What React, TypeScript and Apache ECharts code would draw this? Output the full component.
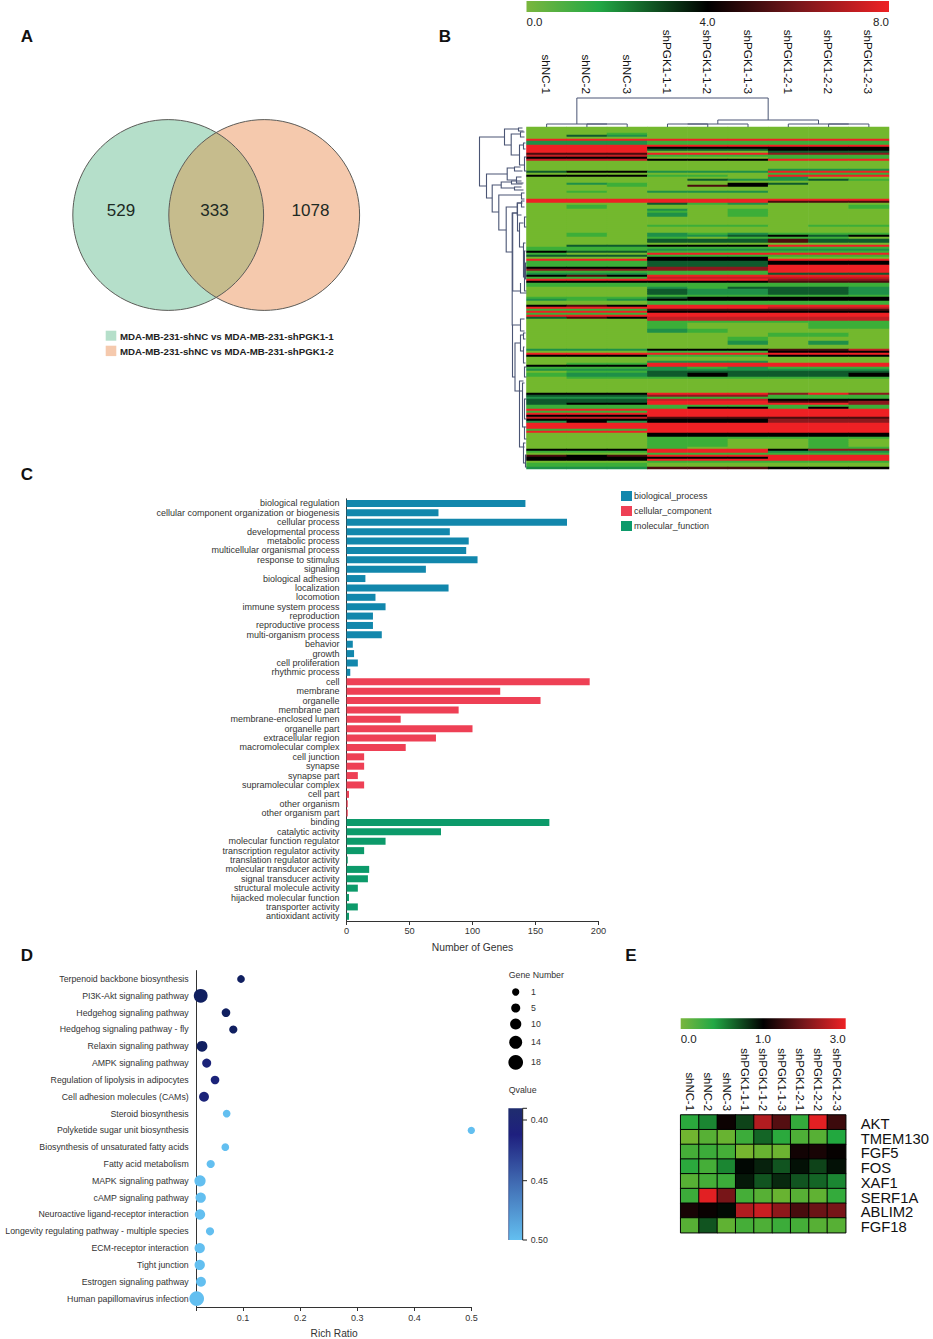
import React, { useEffect, useRef } from "react";
import * as echarts from "echarts";

const SANS = "Liberation Sans";

// Panel A
const vennValues = ["529", "333", "1078"];
const vennLegend = ["MDA-MB-231-shNC vs MDA-MB-231-shPGK1-1", "MDA-MB-231-shNC vs MDA-MB-231-shPGK1-2"];

// Panel B
const sampleNames = ["shNC-1", "shNC-2", "shNC-3", "shPGK1-1-1", "shPGK1-1-2", "shPGK1-1-3", "shPGK1-2-1", "shPGK1-2-2", "shPGK1-2-3"];
const exprBands: [number, string][] = [
  [3, "000000000"], [1, "001000000"], [1, "032000000"], [1, "000000000"], [1, "888888888"], [2, "222111111"],
  [1, "888888888"], [1, "888444444"], [1, "888333444"], [1, "888000333"], [1, "555888666"], [1, "777111111"],
  [1, "444000111"], [1, "777444888"], [4, "000000000"], [1, "000000222"], [1, "344222888"], [1, "000000111"],
  [1, "444110888"], [1, "000000200"], [1, "000032231"], [1, "000000000"], [1, "021004300"], [1, "001054000"],
  [2, "000000000"], [1, "010222000"], [3, "000000000"], [1, "888888888"], [1, "888888555"], [1, "000312000"],
  [2, "010000001"], [1, "000201000"], [1, "000101000"], [2, "000201000"], [4, "000000000"], [1, "000111011"],
  [3, "000000000"], [1, "010212111"], [1, "010223434"], [1, "000101110"], [2, "000333533"], [1, "000000000"],
  [1, "033444888"], [1, "111111111"], [1, "111222222"], [1, "433111111"], [1, "100888888"], [1, "333111111"],
  [1, "000444000"], [1, "888444888"], [2, "111333444"], [1, "111333888"], [1, "444666888"], [1, "666666888"],
  [1, "111111888"], [1, "222111333"], [1, "454888888"], [1, "111777777"], [1, "888888666"], [1, "444444555"],
  [2, "111111111"], [1, "000213332"], [3, "000322332"], [1, "000111111"], [1, "111344444"], [1, "212444444"],
  [2, "000111111"], [1, "454888888"], [1, "888888777"], [1, "111555555"], [1, "888444444"], [1, "111888888"],
  [1, "888888888"], [1, "354777777"], [1, "000777777"], [1, "000111111"], [3, "000100011"], [2, "000210000"],
  [2, "000000110"], [2, "000001000"], [2, "000002020"], [2, "000000000"], [1, "222444557"], [1, "000111444"],
  [1, "888888888"], [1, "444111444"], [2, "000000000"], [1, "000222000"],
  [1, "011888888"], [1, "444888888"], [1, "111212111"], [1, "222222222"], [1, "011333333"], [2, "122343334"],
  [1, "011111111"], [7, "000000000"], [1, "444888686"], [1, "333666111"], [1, "222111111"], [1, "333777444"],
  [1, "333888556"], [1, "344888886"], [1, "111111111"], [1, "111144141"], [1, "888888888"], [1, "111888888"],
  [1, "888888888"], [1, "444888888"], [1, "777555555"], [1, "444444666"], [1, "242444666"], [3, "888888888"],
  [1, "111888888"], [1, "888888888"], [2, "000444444"], [1, "000111111"], [4, "000110010"], [1, "000100011"],
  [1, "444888466"], [1, "111888222"], [1, "000111111"], [1, "545888888"], [1, "444444888"], [1, "444888888"],
  [1, "000111111"], [2, "111000000"], [1, "222555444"],
];
const columnTree = [
  [1, 2, 3, 0, 0], [0, 1.5, 3, 0, 3], [3, 4, 3, 0, 0], [3.5, 5, 3, 3, 0], [7, 8, 3, 0, 0], [6, 7.5, 3, 0, 3],
  [4.25, 6.75, 7, 3, 3], [0.75, 5.5, 29, 3, 7],
];
const rowTree = [
  [47, 5, 29.5, 22, 40], [22, 1, 9, 8, 15.3], [8, 0.5, 2, 4, 3], [15.3, 3.5, 14, 6, 7], [6, 2.5, 5, 2, 2], [7, 9, 19, 3, 2],
  [3, 8, 11, 1, 1], [2, 15, 22, 0, 0], [40, 23.5, 35.5, 19.3, 34.3], [19.3, 20.5, 26.5, 12, 10], [12, 20, 22, 6, 4],
  [10, 25, 28, 5, 3], [34.3, 29, 42.5, 25.3, 27.7], [25.3, 27.5, 30.5, 15, 12], [15, 27, 28.5, 5, 4], [12, 30, 31.5, 5, 3],
  [27.7, 34, 51.5, 5, 20.3], [5, 33, 36, 2, 2], [20.3, 40, 62.5, 9.3, 14.3], [9.3, 38, 44, 4, 5], [5, 37, 40, 2, 2],
  [14.3, 43, 99, 9, 14], [13.8, 43, 82, 9, 6], [9, 38, 52, 5, 7], [7, 48, 60, 3, 3], [3, 58, 75, 1, 2], [2, 62, 82, 1, 0], [6, 78, 83, 6, 0],
  [14, 99, 125, 6, 11.5], [6, 96, 102, 2, 2], [11.5, 108, 132, 6, 4], [6, 104, 112, 3, 3], [3, 103, 106, 1, 1],
  [3, 110, 118, 2, 1], [4, 128, 150, 2, 2], [7, 127, 160, 3, 2], [3, 158, 168, 1, 1], [2, 136, 146, 0, 0],
  [2, 120, 125, 0, 0], [2, 150, 156, 0, 0], [1, 164, 170, 0, 0], [1, 68, 76, 0, 0], [2, 45, 50, 0, 0],
];

// Panel C
const goTerms = ["biological regulation", "cellular component organization or biogenesis", "cellular process", "developmental process", "metabolic process", "multicellular organismal process", "response to stimulus", "signaling", "biological adhesion", "localization", "locomotion", "immune system process", "reproduction", "reproductive process", "multi-organism process", "behavior", "growth", "cell proliferation", "rhythmic process", "cell", "membrane", "organelle", "membrane part", "membrane-enclosed lumen", "organelle part", "extracellular region", "macromolecular complex", "cell junction", "synapse", "synapse part", "supramolecular complex", "cell part", "other organism", "other organism part", "binding", "catalytic activity", "molecular function regulator", "transcription regulator activity", "translation regulator activity", "molecular transducer activity", "signal transducer activity", "structural molecule activity", "hijacked molecular function", "transporter activity", "antioxidant activity"];
const processCounts = [142, 73, 175, 82, 97, 95, 104, 63, 15, 81, 23, 31, 21, 21, 28, 5, 6, 9, 3];
const componentCounts = [193, 122, 154, 89, 43, 100, 71, 47, 14, 14, 9, 14, 2, 1, 1];
const functionCounts = [161, 75, 31, 14, 1, 18, 17, 9, 2, 9, 2];
const goSeriesNames = ["biological_process", "cellular_component", "molecular_function"];

// Panel D
const pathways = ["Terpenoid backbone biosynthesis", "PI3K-Akt signaling pathway", "Hedgehog signaling pathway", "Hedgehog signaling pathway - fly", "Relaxin signaling pathway", "AMPK signaling pathway", "Regulation of lipolysis in adipocytes", "Cell adhesion molecules (CAMs)", "Steroid biosynthesis", "Polyketide sugar unit biosynthesis", "Biosynthesis of unsaturated fatty acids", "Fatty acid metabolism", "MAPK signaling pathway", "cAMP signaling pathway", "Neuroactive ligand-receptor interaction", "Longevity regulating pathway - multiple species", "ECM-receptor interaction", "Tight junction", "Estrogen signaling pathway", "Human papillomavirus infection"];
const richRatio = [0.0963, 0.0257, 0.07, 0.0828, 0.028, 0.0362, 0.0508, 0.0315, 0.0712, 0.4997, 0.0688, 0.0432, 0.0245, 0.0257, 0.0245, 0.042, 0.024, 0.024, 0.0262, 0.0187];
const geneNumber = [2, 16, 4, 3, 9, 5, 4, 7, 2, 1, 2, 3, 10, 8, 8, 3, 8, 8, 7, 18];
const qValue = [0.39, 0.39, 0.39, 0.39, 0.39, 0.42, 0.42, 0.42, 0.5, 0.5, 0.5, 0.5, 0.5, 0.5, 0.5, 0.5, 0.5, 0.5, 0.5, 0.5];
const geneLegend = [1, 5, 10, 14, 18];
const richTicks = [0.1, 0.2, 0.3, 0.4, 0.5];
const qTicks = ["0.40", "0.45", "0.50"];

// Panel E
const genes = ["AKT", "TMEM130", "FGF5", "FOS", "XAF1", "SERF1A", "ABLIM2", "FGF18"];
const geneMatrix = [
  [0.45, 0.6, 1.1, 0.8, 2.5, 1.7, 0.4, 2.9, 1.5],
  [0.05, 0.2, 0.1, 0.35, 0.7, 0.45, 0.25, 0.2, 0.5],
  [0.3, 0.35, 0.3, 0.02, 0.1, 0.08, 1.15, 1.2, 1.05],
  [0.45, 0.3, 0.6, 0.98, 0.9, 0.75, 0.95, 0.8, 0.95],
  [0.2, 0.3, 0.35, 0.93, 0.75, 0.88, 0.75, 0.7, 0.6],
  [0.35, 2.9, 2.0, 0.3, 0.2, 0.1, 0.2, 0.15, 0.4],
  [1.2, 1.08, 0.97, 2.5, 2.7, 2.2, 1.6, 1.9, 2.0],
  [0.2, 0.75, 0.15, 0.3, 0.25, 0.35, 0.3, 0.2, 0.2],
];

const HEAT_COLORS = ["#73b82e", "#3cae38", "#1f9048", "#0f5a2c", "#000000", "#4a0c0e", "#8b1a1e", "#c21f24", "#ee2124"];
const GENE_COLORS = ["#7ab62e", "#22a83f", "#000000", "#3c0a0c", "#771518", "#b21c20", "#ee2124"];
const BLUE = "#1287ac", RED = "#ee4055", GREEN = "#0c9a6a", LINE = "#333333", TREE = "#4a5574";

echarts.graphic.registerShape("vennLens", echarts.graphic.extendPath("M216.2 132.6 A95.4 95.4 0 0 1 216.2 297.4 A95.4 95.4 0 0 1 216.2 132.6 Z", {}));

const dotSize = (g: number) => 7.3 + (g - 1) * 0.435;

const txt = (text: string, x: number, y: number, fontSize: number, extra: any = {}) => ({
  type: "text", silent: true,
  style: { text, x, y, fontSize, fontFamily: SANS, fill: "#222", verticalAlign: "middle", ...extra },
});

function buildOption() {
  const rows: string[] = [];
  exprBands.forEach(([n, s]) => { for (let i = 0; i < n; i++) rows.push(s); });
  const rowNames = rows.map((_, i) => String(i));
  const exprData: number[][] = [];
  rows.forEach((s, r) => { s.split("").forEach((c, col) => exprData.push([col, r, Number(c)])); });
  const geneData: number[][] = [];
  geneMatrix.forEach((row, r) => row.forEach((v, c) => geneData.push([c, r, v])));

  const padded = (vals: number[], before: number) => {
    const a: (number | null)[] = goTerms.map(() => null);
    vals.forEach((v, i) => { a[before + i] = v; });
    return a;
  };
  const n0 = processCounts.length, n1 = componentCounts.length;

  const dotData = pathways.map((p, i) => [richRatio[i], p, geneNumber[i], qValue[i]]);

  const graphic: any[] = [
    txt("A", 27, 36, 17, { fontWeight: "bold", fill: "#111", align: "center" }),
    txt("B", 445, 36, 17, { fontWeight: "bold", fill: "#111", align: "center" }),
    txt("C", 27, 474, 17, { fontWeight: "bold", fill: "#111", align: "center" }),
    txt("D", 27, 955, 17, { fontWeight: "bold", fill: "#111", align: "center" }),
    txt("E", 631, 955, 17, { fontWeight: "bold", fill: "#111", align: "center" }),
    // Venn
    { type: "circle", silent: true, shape: { cx: 168.2, cy: 215, r: 95.4 }, style: { fill: "#b5dfca" } },
    { type: "circle", silent: true, shape: { cx: 264.2, cy: 215, r: 95.4 }, style: { fill: "#f5c9ad" } },
    { type: "vennLens", silent: true, style: { fill: "#c6bc8d" } },
    { type: "circle", silent: true, shape: { cx: 168.2, cy: 215, r: 95.4 }, style: { fill: "none", stroke: "#5c5c58", lineWidth: 1 } },
    { type: "circle", silent: true, shape: { cx: 264.2, cy: 215, r: 95.4 }, style: { fill: "none", stroke: "#5c5c58", lineWidth: 1 } },
    txt(vennValues[0], 121, 210.5, 17, { align: "center", fill: "#1d2a24" }),
    txt(vennValues[1], 214.5, 210.5, 17, { align: "center", fill: "#1d2a24" }),
    txt(vennValues[2], 310.5, 210.5, 17, { align: "center", fill: "#1d2a24" }),
    { type: "rect", silent: true, shape: { x: 105.7, y: 330.7, width: 10.6, height: 10 }, style: { fill: "#b5dfca" } },
    { type: "rect", silent: true, shape: { x: 105.7, y: 345.7, width: 10.6, height: 10.4 }, style: { fill: "#f5c9ad" } },
    txt(vennLegend[0], 120, 336, 9.7, { fontWeight: "bold", fill: "#222" }),
    txt(vennLegend[1], 120, 351, 9.7, { fontWeight: "bold", fill: "#222" }),
    // Colour bar B
    { type: "rect", silent: true, shape: { x: 526.5, y: 1, width: 362.5, height: 11 },
      style: { fill: new echarts.graphic.LinearGradient(0, 0, 1, 0, [
        { offset: 0, color: "#7ab63e" }, { offset: 0.2, color: "#22a845" }, { offset: 0.5, color: "#000000" }, { offset: 0.75, color: "#78171b" }, { offset: 1, color: "#ee2124" },
      ]) } },
    txt("0.0", 526.5, 22, 11.5, { align: "left" }),
    txt("4.0", 707.5, 22, 11.5, { align: "center" }),
    txt("8.0", 889, 22, 11.5, { align: "right" }),
    // Colour bar E
    { type: "rect", silent: true, shape: { x: 680.7, y: 1018.3, width: 165, height: 10.7 },
      style: { fill: new echarts.graphic.LinearGradient(0, 0, 1, 0, [
        { offset: 0, color: "#7ab63e" }, { offset: 0.2, color: "#22a845" }, { offset: 0.5, color: "#000000" }, { offset: 0.75, color: "#78171b" }, { offset: 1, color: "#ee2124" },
      ]) } },
    txt("0.0", 680.7, 1039, 11.5, { align: "left" }),
    txt("1.0", 763, 1039, 11.5, { align: "center" }),
    txt("3.0", 845.7, 1039, 11.5, { align: "right" }),
    // Gene number legend
    txt("Gene Number", 508.7, 975, 8.8, { fill: "#333" }),
    ...geneLegend.map((g, i) => ({ type: "circle", silent: true, shape: { cx: 515.7, cy: [992, 1008, 1024, 1042.3, 1062.3][i], r: dotSize(g) / 2 }, style: { fill: "#000" } })),
    ...geneLegend.map((g, i) => txt(String(g), 531, [992, 1008, 1024, 1042.3, 1062.3][i], 8.8, { fill: "#333" })),
    // Q value bar
    txt("Qvalue", 508.7, 1090, 8.8, { fill: "#333" }),
    { type: "rect", silent: true, shape: { x: 508.7, y: 1108.3, width: 14, height: 131.7 },
      style: { stroke: null, fill: new echarts.graphic.LinearGradient(0, 0, 0, 1, [
        { offset: 0, color: "#1f2d6e" }, { offset: 0.2, color: "#1e1f7e" }, { offset: 0.55, color: "#3f68b0" }, { offset: 1, color: "#63bff0" },
      ]) } },
    { type: "line", silent: true, shape: { x1: 522.7, y1: 1108.3, x2: 522.7, y2: 1240 }, style: { stroke: "#222", lineWidth: 1 } },
    { type: "line", silent: true, shape: { x1: 508.7, y1: 1108.3, x2: 508.7, y2: 1240 }, style: { stroke: "#1f2d6e", lineWidth: 0.6 } },
    ...[1108.3, 1120, 1180.7, 1240].map((y) => ({ type: "line", silent: true, shape: { x1: 522.7, y1: y, x2: 527, y2: y }, style: { stroke: "#222", lineWidth: 1 } })),
    ...qTicks.map((t, i) => txt(t, 530.7, [1120, 1180.7, 1240][i], 8.8, { fill: "#333" })),
  ];

  const axisText = { color: "#333", fontFamily: SANS };
  const hidden = { show: false };

  const colBracket = (_: any, api: any) => {
    const v = [0, 1, 2, 3, 4].map((i) => api.value(i));
    const pts = [api.coord([v[0], v[3]]), api.coord([v[0], v[2]]), api.coord([v[1], v[2]]), api.coord([v[1], v[4]])];
    return { type: "polyline", shape: { points: pts }, style: { stroke: TREE, fill: "none", lineWidth: 1 } };
  };
  const rowBracket = (_: any, api: any) => {
    const v = [0, 1, 2, 3, 4].map((i) => api.value(i));
    const pts = [api.coord([v[3], v[1]]), api.coord([v[0], v[1]]), api.coord([v[0], v[2]]), api.coord([v[4], v[2]])];
    return { type: "polyline", shape: { points: pts }, style: { stroke: TREE, fill: "none", lineWidth: 1.1 } };
  };

  const barSeries = (name: string, color: string, data: any[]) => ({
    name, type: "bar", xAxisIndex: 0, yAxisIndex: 0, data, barWidth: 7, barGap: "-100%", itemStyle: { color },
  });

  return {
    animation: false,
    backgroundColor: "#ffffff",
    textStyle: { fontFamily: SANS },
    graphic,
    legend: {
      orient: "vertical", left: 621, top: 491, padding: 0, itemWidth: 11, itemHeight: 10, itemGap: 5,
      icon: "rect", data: goSeriesNames, textStyle: { fontSize: 8.95, color: "#333", fontFamily: SANS, padding: [0, 0, 0, -3] },
    },
    grid: [
      { left: 346.5, top: 498.8, width: 252, height: 422.2 },
      { left: 196.7, top: 970.6, width: 274.8, height: 337.8 },
      { left: 526.5, top: 127, width: 362.5, height: 342 },
      { left: 680.7, top: 1115, width: 165, height: 117.7 },
      { left: 526.5, top: 97, width: 362.5, height: 30 },
      { left: 471, top: 127, width: 55.5, height: 342 },
      { left: 680.7, top: 1116.7, width: 165, height: 117.7 },
    ],
    xAxis: [
      { gridIndex: 0, type: "value", min: 0, max: 200, interval: 50, splitLine: hidden, name: "Number of Genes", nameLocation: "middle", nameGap: 21,
        nameTextStyle: { ...axisText, fontSize: 10.3 }, axisLine: { show: true, lineStyle: { color: LINE } }, axisTick: { show: true, length: 4, lineStyle: { color: LINE } }, axisLabel: { ...axisText, fontSize: 9.2, margin: 5 } },
      { gridIndex: 1, type: "value", min: 0.0187, max: 0.5, splitLine: hidden, name: "Rich Ratio", nameLocation: "middle", nameGap: 21,
        nameTextStyle: { ...axisText, fontSize: 10.2 }, axisLine: { show: true, onZero: false, lineStyle: { color: LINE } },
        axisTick: { show: true, length: 4, lineStyle: { color: LINE }, customValues: [0.0187, ...richTicks] },
        axisLabel: { ...axisText, fontSize: 9, margin: 6, customValues: richTicks, formatter: (v: number) => v.toFixed(1) } },
      { gridIndex: 2, type: "category", position: "top", data: sampleNames, axisLine: hidden, axisTick: hidden, axisLabel: { color: "#111", fontFamily: SANS, fontSize: 11.7, rotate: 90, margin: 33, interval: 0 } },
      { gridIndex: 3, type: "category", position: "top", data: sampleNames, axisLine: hidden, axisTick: hidden, axisLabel: { color: "#111", fontFamily: SANS, fontSize: 11.4, rotate: 90, margin: 4, interval: 0 } },
      { gridIndex: 4, type: "value", min: -0.5, max: 8.5, show: false },
      { gridIndex: 5, type: "value", min: 0, max: 55.5, inverse: true, show: false },
      { gridIndex: 6, type: "value", min: 0, max: 1, show: false },
    ],
    yAxis: [
      { gridIndex: 0, type: "category", inverse: true, data: goTerms, axisLine: { lineStyle: { color: LINE } },
        axisTick: { alignWithLabel: true, length: 4.5, lineStyle: { color: LINE } }, axisLabel: { ...axisText, fontSize: 9, margin: 7, interval: 0 } },
      { gridIndex: 1, type: "category", inverse: true, data: pathways, axisLine: { onZero: false, lineStyle: { color: LINE } },
        axisTick: { alignWithLabel: true, length: 5, lineStyle: { color: LINE } }, axisLabel: { ...axisText, fontSize: 8.75, margin: 8, interval: 0 } },
      { gridIndex: 2, type: "category", inverse: true, data: rowNames, show: false },
      { gridIndex: 3, type: "category", inverse: true, data: genes, show: false },
      { gridIndex: 4, type: "value", min: 0, max: 30, show: false },
      { gridIndex: 5, type: "value", min: 0, max: 171, inverse: true, show: false },
      { gridIndex: 6, type: "category", inverse: true, position: "right", data: genes, axisLine: hidden, axisTick: hidden,
        axisLabel: { color: "#111", fontFamily: SANS, fontSize: 14.8, margin: 15, interval: 0 } },
    ],
    visualMap: [
      { show: false, type: "continuous", seriesIndex: 3, dimension: 3, min: 0.39, max: 0.5, inRange: { color: ["#101f60", "#1e247e", "#3f68b0", "#63bff0"] } },
      { show: false, type: "continuous", seriesIndex: 4, dimension: 2, min: 0, max: 8, inRange: { color: HEAT_COLORS } },
      { show: false, type: "continuous", seriesIndex: 5, dimension: 2, min: 0, max: 3, inRange: { color: GENE_COLORS } },
    ],
    series: [
      barSeries(goSeriesNames[0], BLUE, padded(processCounts, 0)),
      barSeries(goSeriesNames[1], RED, padded(componentCounts, n0)),
      barSeries(goSeriesNames[2], GREEN, padded(functionCounts, n0 + n1)),
      { type: "scatter", xAxisIndex: 1, yAxisIndex: 1, data: dotData, clip: false, encode: { x: 0, y: 1 },
        symbolSize: (v: any[]) => dotSize(v[2]), itemStyle: { opacity: 1 } },
      { type: "heatmap", xAxisIndex: 2, yAxisIndex: 2, data: exprData, progressive: 0, itemStyle: { borderWidth: 0 }, emphasis: { disabled: true } },
      { type: "heatmap", xAxisIndex: 3, yAxisIndex: 3, data: geneData, itemStyle: { borderWidth: 1, borderColor: "#000" }, emphasis: { disabled: true } },
      { type: "custom", xAxisIndex: 4, yAxisIndex: 4, data: columnTree, renderItem: colBracket, clip: false, silent: true, encode: { x: [0, 1], y: 2 } },
      { type: "custom", xAxisIndex: 5, yAxisIndex: 5, data: rowTree, renderItem: rowBracket, clip: false, silent: true, encode: { x: 0, y: [1, 2] } },
    ],
  };
}

export default function App() {
  const ref = useRef<HTMLDivElement>(null);
  useEffect(() => {
    const chart = echarts.init(ref.current!, undefined, { renderer: "svg" });
    chart.setOption(buildOption() as any);
    return () => chart.dispose();
  }, []);
  return <div ref={ref} style={{ position: "absolute", left: 0, top: 0, width: 933, height: 1339 }} />;
}
